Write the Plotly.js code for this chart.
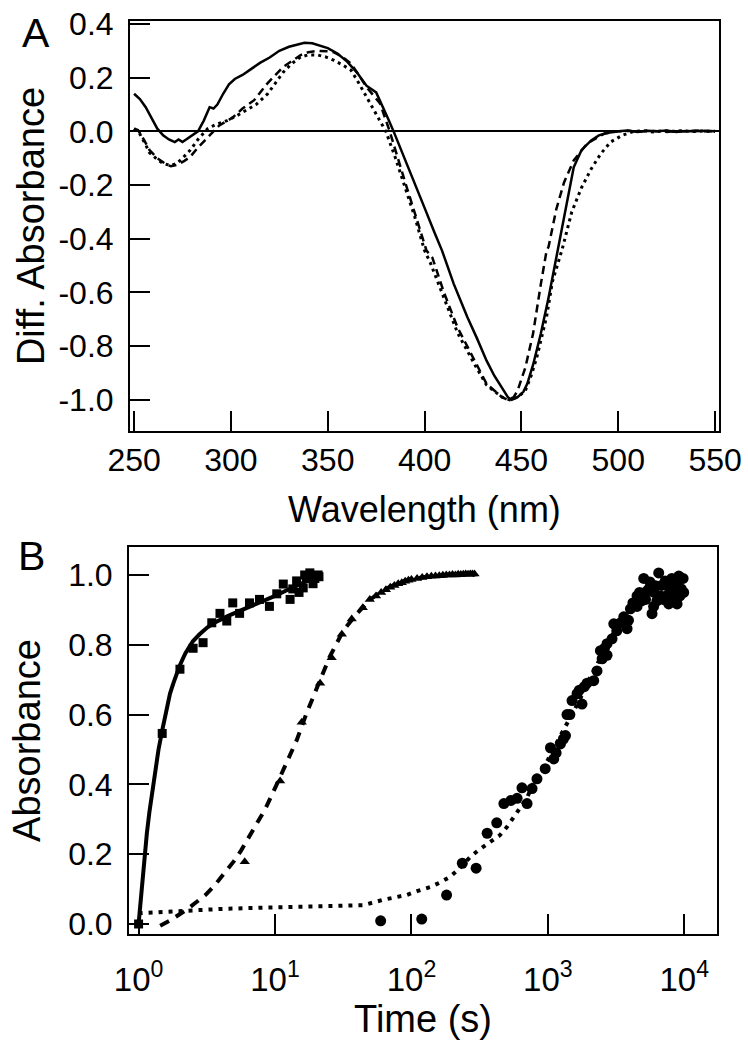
<!DOCTYPE html>
<html>
<head>
<meta charset="utf-8">
<script src="https://cdn.plot.ly/plotly-3.0.1.min.js"></script>
<style>html,body{margin:0;padding:0;background:#fff;}#chart{width:748px;height:1050px;}</style>
</head>
<body>
<div id="chart"></div>
<script>
// ---------- Panel A: difference spectra ----------
const solidWl = [250,253,256,259,262,265,268,271,273,275,278,281,283,286,289,291,293,296,299,302,306,310,315,320,325,330,335,338,342,346,350,355,360,365,370,375,378,381,384,390,395,400,405,409,415,422,427,432,436,440,443,445,448,451,453,456,460,464,467,470,473,477,481,486,490,494,500,505,510,515,520,525,530,535,540,545,550];
const solidDA = [0.14,0.12,0.09,0.05,0.01,-0.015,-0.03,-0.04,-0.03,-0.04,-0.025,-0.01,0.0,0.04,0.09,0.085,0.10,0.14,0.175,0.195,0.21,0.23,0.255,0.275,0.30,0.315,0.325,0.33,0.328,0.32,0.31,0.29,0.26,0.22,0.17,0.145,0.10,0.05,0.0,-0.105,-0.195,-0.285,-0.375,-0.444,-0.567,-0.69,-0.77,-0.854,-0.91,-0.955,-0.99,-1.0,-0.99,-0.97,-0.94,-0.87,-0.754,-0.62,-0.507,-0.40,-0.28,-0.134,-0.07,-0.034,-0.015,-0.006,0.0,0.003,-0.002,0.002,0.0,0.003,-0.002,0.001,0.0,0.002,0.0];

const dashWl = [250,252,255,258,262,266,269,272,276,279,283,288,291,294,301,306,312,319,327,336,340,345,350,353,357,362,366,370,377,382,390,395,401,404,410,417,426,432,440,443,446,448,452,456,460,463,464,468,472,477,484,493,500,505,510,515,520,525,530,535,540,545,550];
const dashDA = [0.01,0.005,-0.03,-0.07,-0.10,-0.12,-0.13,-0.125,-0.11,-0.095,-0.06,-0.022,0.0,0.022,0.052,0.085,0.116,0.18,0.24,0.284,0.295,0.30,0.298,0.295,0.28,0.253,0.21,0.165,0.104,0.0,-0.19,-0.305,-0.444,-0.47,-0.60,-0.73,-0.854,-0.94,-0.99,-1.0,-0.99,-0.966,-0.88,-0.754,-0.57,-0.444,-0.43,-0.29,-0.19,-0.108,-0.045,-0.008,0.0,0.002,-0.002,0.003,0.0,-0.002,0.002,0.0,0.003,0.0,0.0];

const dotWl = [250,253,256,258,262,265,269,272,275,279,283,288,292,298,303,308,313,319,323,327,331,336,340,345,349,353,357,362,366,370,374,380,385,390,395,400,403,410,417,426,432,440,444,448,452,455,458,463,466,471,476,481,486,491,496,502,508,513,518,523,528,533,538,543,550];
const dotDA = [0.01,-0.01,-0.05,-0.08,-0.105,-0.12,-0.127,-0.12,-0.10,-0.07,-0.03,0.01,0.025,0.04,0.058,0.078,0.10,0.14,0.18,0.22,0.25,0.277,0.285,0.284,0.277,0.265,0.25,0.228,0.18,0.127,0.078,0.0,-0.10,-0.21,-0.32,-0.444,-0.49,-0.62,-0.75,-0.87,-0.945,-0.99,-1.0,-0.99,-0.966,-0.91,-0.84,-0.69,-0.56,-0.44,-0.30,-0.21,-0.14,-0.083,-0.04,-0.015,0.0,0.002,-0.002,0.002,0.0,0.002,-0.001,0.001,0.0];

const wlTicks = [250,300,350,400,450,500,550];
const daTickVals = [0.4,0.2,0.0,-0.2,-0.4,-0.6,-0.8,-1.0];
const daTickText = ["0.4","0.2","0.0","-0.2","-0.4","-0.6","-0.8","-1.0"];

// ---------- Panel B: kinetics ----------
const sqT = [1.0,1.49,2.01,2.51,2.97,3.44,3.95,4.43,4.9,5.5,6.5,7.7,9.1,10.3,11.5,12.9,13.5,14.4,15,16.1,16.5,17,18,19,19.6,20.7,21];
const sqA = [0.0,0.546,0.73,0.79,0.806,0.863,0.89,0.868,0.92,0.89,0.92,0.93,0.91,0.946,0.974,0.93,0.96,0.983,0.95,0.963,1.0,0.99,1.006,0.975,0.99,1.0,0.995];

const fitSolidT = [1.0,1.05,1.1,1.15,1.2,1.3,1.4,1.5,1.6,1.7,1.8,2.0,2.2,2.5,2.8,3.2,3.6,4.0,4.5,5,6,7,8,10,12,14,16,18,20];
const fitSolidA = [0.0,0.10,0.19,0.26,0.32,0.42,0.50,0.56,0.61,0.66,0.69,0.74,0.775,0.81,0.83,0.85,0.863,0.873,0.882,0.89,0.903,0.913,0.922,0.94,0.955,0.968,0.978,0.987,0.995];

const triT = [6,10.9,15.7,21.4,26,30.9,36.5,44,49.5,55,60,65,70,75,80,85,90,95,100,110,120,130,140,150,160,170,180,190,200,210,220,230,240,250,260,270,280,290];
const triA = [0.178,0.41,0.578,0.69,0.763,0.83,0.874,0.906,0.93,0.94,0.95,0.958,0.965,0.97,0.975,0.978,0.982,0.985,0.987,0.99,0.993,0.995,0.996,0.997,0.998,0.999,1.0,1.0,1.001,1.0,1.002,1.001,1.002,1.003,1.002,1.003,1.003,1.003];

const fitDashT = [1.44,1.7,2.0,2.24,2.6,3.09,3.6,4.27,5.0,5.65,6.92,8.5,10.3,12.2,14.4,17,20.2,25,31.6,39.8,50,63,80,100,130,170,220,290];
const fitDashA = [-0.005,0.01,0.028,0.04,0.06,0.083,0.11,0.146,0.18,0.211,0.27,0.33,0.40,0.465,0.526,0.603,0.677,0.763,0.84,0.889,0.93,0.958,0.977,0.988,0.995,0.999,1.0,1.0];

const circT = [59.5,119,181,236,298,359,422,476,537,595,646,704,766,832,956,1045,1105,1150,1237,1300,1346,1381,1450,1504,1636,1700,1779,1850,1937,2168,2292,2428,2500,2600,2715,2715,2954,3041,3200,3405,3600,3807,3900,4029,4200,4505,4505,4700,4870,5043,5200,5335,5500,5600,5801,5960,6000,6142,6300,6494,6683,6800,7000,7250,7400,7690,7800,8000,8100,8318,8600,8851,9000,9120,9300,9500,9500,9800,9900];
const circA = [0.009,0.014,0.083,0.174,0.16,0.26,0.29,0.345,0.354,0.36,0.39,0.345,0.388,0.416,0.445,0.505,0.473,0.49,0.516,0.53,0.54,0.60,0.60,0.64,0.66,0.67,0.63,0.68,0.69,0.697,0.725,0.783,0.76,0.79,0.803,0.77,0.817,0.86,0.84,0.863,0.88,0.846,0.87,0.903,0.92,0.94,0.91,0.95,0.926,0.99,0.93,0.954,0.96,0.98,0.889,0.91,0.95,0.969,0.926,1.006,0.94,0.97,0.93,0.983,0.94,0.917,0.96,0.94,0.99,0.954,0.97,0.917,0.95,0.997,0.94,0.96,0.99,0.99,0.95];

const fitDotT = [1,2,4,7,12,20,30,44.5,61.5,75,92,110,138,160,190,215,242,270,309,380,444,499,553,612,700,800,1000,1200,1381,1700,2000,2500,3000,3500,4000,5000,6000,7000,8000,9500];
const fitDotA = [0.031,0.038,0.043,0.046,0.049,0.051,0.052,0.054,0.069,0.076,0.083,0.094,0.106,0.118,0.134,0.152,0.174,0.192,0.211,0.235,0.254,0.277,0.303,0.326,0.36,0.41,0.47,0.53,0.573,0.64,0.70,0.77,0.83,0.87,0.90,0.935,0.955,0.968,0.975,0.98];

const timeTickVals = [1,10,100,1000,10000];
const timeTickText = ["10<sup>0</sup>","10<sup>1</sup>","10<sup>2</sup>","10<sup>3</sup>","10<sup>4</sup>"];
const absTickVals = [0.0,0.2,0.4,0.6,0.8,1.0];
const absTickText = ["0.0","0.2","0.4","0.6","0.8","1.0"];

const K = '#000000';
const traces = [
  {x: solidWl, y: solidDA, xaxis:'x', yaxis:'y', mode:'lines', line:{color:K, width:2.5}},
  {x: dashWl, y: dashDA, xaxis:'x', yaxis:'y', mode:'lines', line:{color:K, width:2.5, dash:'8px,5px'}},
  {x: dotWl, y: dotDA, xaxis:'x', yaxis:'y', mode:'lines', line:{color:K, width:3, dash:'3px,4px'}},

  {x: fitSolidT, y: fitSolidA, xaxis:'x2', yaxis:'y2', mode:'lines', line:{color:K, width:4}},
  {x: fitDashT, y: fitDashA, xaxis:'x2', yaxis:'y2', mode:'lines', line:{color:K, width:4, dash:'10px,8px'}},
  {x: fitDotT, y: fitDotA, xaxis:'x2', yaxis:'y2', mode:'lines', line:{color:K, width:4, dash:'4px,6px'}},
  {x: sqT, y: sqA, xaxis:'x2', yaxis:'y2', mode:'markers', marker:{symbol:'square', size:9, color:K}},
  {x: triT, y: triA, xaxis:'x2', yaxis:'y2', mode:'markers', marker:{symbol:'triangle-up', size:9, color:K}},
  {x: circT, y: circA, xaxis:'x2', yaxis:'y2', mode:'markers', marker:{symbol:'circle', size:11, color:K}}
];

const axCommon = {
  ticks:'inside', ticklen:20, tickwidth:2, tickcolor:K,
  showline:true, linewidth:2, linecolor:K, mirror:true,
  showgrid:false, zeroline:false,
  tickfont:{size:32, color:K}
};

const layout = {
  width:748, height:1050,
  margin:{l:0, r:0, t:0, b:0},
  paper_bgcolor:'#fff', plot_bgcolor:'#fff',
  showlegend:false,
  font:{family:'Arial, "Liberation Sans", sans-serif', color:K},
  xaxis: Object.assign({}, axCommon, {
    domain:[0.1738, 0.9612], anchor:'y', range:[247.9, 552],
    tickmode:'array', tickvals: wlTicks,
    title:{text:'Wavelength (nm)', font:{size:36}, standoff:19}
  }),
  yaxis: Object.assign({}, axCommon, {
    domain:[0.5895, 0.98], anchor:'x', range:[-1.116, 0.411],
    tickmode:'array', tickvals: daTickVals, ticktext: daTickText,
    zeroline:true, zerolinecolor:K, zerolinewidth:2,
    ticklabelstandoff:8,
    title:{text:'Diff. Absorbance', font:{size:38}, standoff:2}
  }),
  xaxis2: Object.assign({}, axCommon, {
    type:'log', domain:[0.1725, 0.9586], anchor:'y2', range:[-0.07, 4.24],
    tickmode:'array', tickvals: timeTickVals, ticktext: timeTickText,
    ticklabelstandoff:15,
    tickfont:{size:33, color:K},
    title:{text:'Time (s)', font:{size:38}, standoff:8}
  }),
  yaxis2: Object.assign({}, axCommon, {
    domain:[0.1105, 0.479], anchor:'x2', range:[-0.0286, 1.08],
    tickmode:'array', tickvals: absTickVals, ticktext: absTickText,
    ticklabelstandoff:8,
    title:{text:'Absorbance', font:{size:38}, standoff:16}
  }),
  annotations:[
    {text:'A', xref:'paper', yref:'paper', x:36/748, y:1-33/1050, xanchor:'center', yanchor:'middle', showarrow:false, font:{size:41, color:K}},
    {text:'B', xref:'paper', yref:'paper', x:31/748, y:1-556/1050, xanchor:'center', yanchor:'middle', showarrow:false, font:{size:41, color:K}}
  ]
};

Plotly.newPlot('chart', traces, layout, {staticPlot:true, displayModeBar:false});
</script>
</body>
</html>
